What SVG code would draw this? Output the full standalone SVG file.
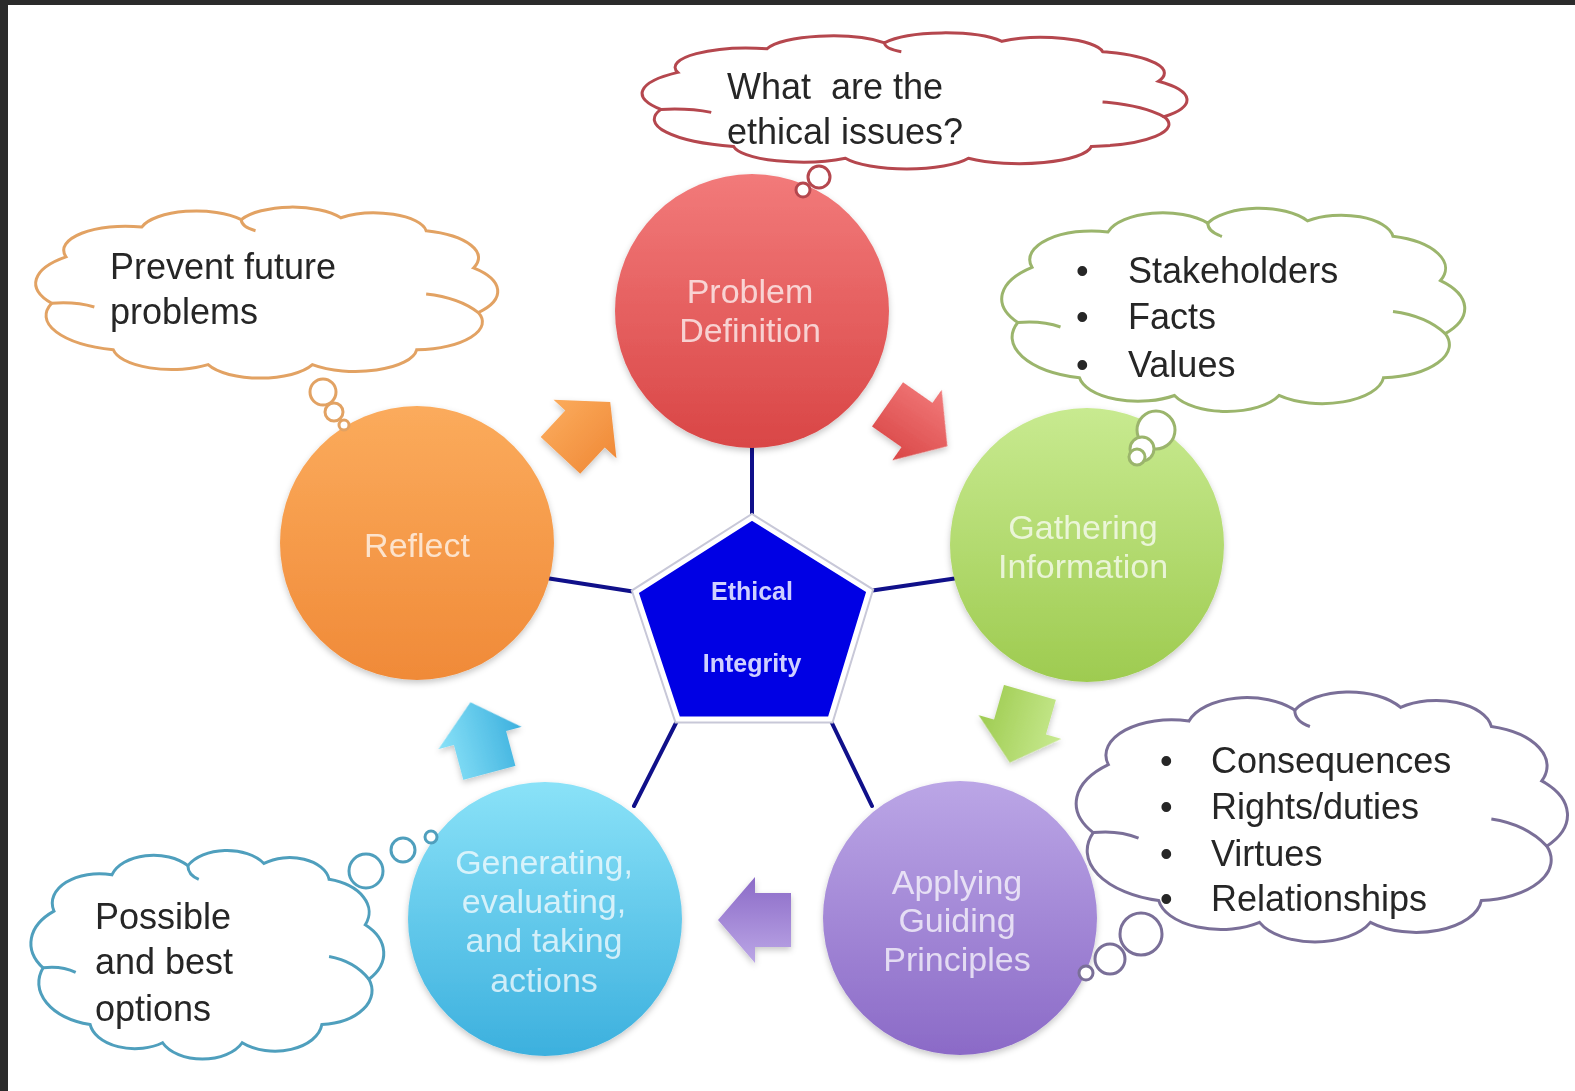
<svg xmlns="http://www.w3.org/2000/svg" xmlns:xlink="http://www.w3.org/1999/xlink" width="1575" height="1091" viewBox="0 0 1575 1091">
<style>
.cloud{fill:#ffffff;stroke-width:3;}
.crease{fill:none;stroke-width:3;}
.ctext{font-family:"Liberation Sans",Arial,sans-serif;font-size:36px;fill:#262626;}
.ntext{font-family:"Liberation Sans",Arial,sans-serif;font-size:34px;fill:#ffffff;fill-opacity:0.72;text-anchor:middle;}
.link{stroke:#10108a;stroke-width:4;stroke-linecap:round;}
.red{stroke:#b5474e;}
.orange{stroke:#e2a263;}
.green{stroke:#9bb56c;}
.purple{stroke:#7a6f98;}
.teal{stroke:#4f9fbd;}
</style>
<defs>
<linearGradient id="gRed" x1="0" y1="0" x2="0" y2="1"><stop offset="0" stop-color="#f27a7a"/><stop offset="1" stop-color="#d94646"/></linearGradient>
<linearGradient id="gGreen" x1="0" y1="0" x2="0" y2="1"><stop offset="0" stop-color="#c8ea90"/><stop offset="1" stop-color="#9ecb50"/></linearGradient>
<linearGradient id="gPurple" x1="0" y1="0" x2="0" y2="1"><stop offset="0" stop-color="#bba6e6"/><stop offset="1" stop-color="#8b6ac7"/></linearGradient>
<linearGradient id="gBlue" x1="0" y1="0" x2="0" y2="1"><stop offset="0" stop-color="#8ae2f8"/><stop offset="1" stop-color="#3cb0de"/></linearGradient>
<linearGradient id="gOrange" x1="0" y1="0" x2="0" y2="1"><stop offset="0" stop-color="#fbab5c"/><stop offset="1" stop-color="#f08a38"/></linearGradient>
<filter id="shadow" x="-20%" y="-20%" width="140%" height="140%"><feDropShadow dx="0" dy="3" stdDeviation="3" flood-color="#000" flood-opacity="0.22"/></filter>
<path id="cloudShape" vector-effect="non-scaling-stroke" d="M5,55 A19,19 0 0 1 8,30 A13,13 0 0 1 24,14 A12,12 0 0 1 45,10 A12,12 0 0 1 66,9 A11,11 0 0 1 84,16 A15,15 0 0 1 94,36 A18,18 0 0 1 95,60 A15,15 0 0 1 82,80 A13,13 0 0 1 60,88 A12,12 0 0 1 38,88 A12.5,12.5 0 0 1 18,80 A19,19 0 0 1 5,55 Z"/>
<path id="creaseShape" vector-effect="non-scaling-stroke" d="M5,55 Q10,54 14,57 M95,60 Q91,52 84,50 M45,10 Q45,14 48,16"/>
<path id="arrowShape" d="M-36,-27 L0,-27 L0,-43 L37,0 L0,43 L0,27 L-36,27 Z"/>
</defs>

<rect x="0" y="0" width="1575" height="1091" fill="#ffffff"/>
<rect x="0" y="0" width="1575" height="5" fill="#2b2b2b"/>
<rect x="0" y="0" width="8" height="1091" fill="#2b2b2b"/>

<g id="connectors">
<line class="link" x1="752" y1="440" x2="752" y2="518"/>
<line class="link" x1="546" y1="578" x2="636" y2="592"/>
<line class="link" x1="869" y1="591" x2="958" y2="578"/>
<line class="link" x1="678" y1="719" x2="634" y2="806"/>
<line class="link" x1="830" y1="719" x2="872" y2="806"/>
</g>

<g id="flow-arrows" filter="url(#shadow)">
<use xlink:href="#arrowShape" href="#arrowShape" fill="url(#gOrange)" transform="translate(585,429) rotate(-47)"/>
<use xlink:href="#arrowShape" href="#arrowShape" fill="url(#gRed)" transform="translate(917,425) rotate(35)"/>
<use xlink:href="#arrowShape" href="#arrowShape" fill="url(#gGreen)" transform="translate(1020,727) rotate(106)"/>
<use xlink:href="#arrowShape" href="#arrowShape" fill="url(#gPurple)" transform="translate(755,920) rotate(180)"/>
<use xlink:href="#arrowShape" href="#arrowShape" fill="url(#gBlue)" transform="translate(480,738) rotate(-105)"/>
</g>

<g id="center">
<polygon points="752,518 869,591 830,719 678,719 636,592" fill="none" stroke="#c8c8d8" stroke-width="9" stroke-linejoin="miter"/>
<polygon points="752,518 869,591 830,719 678,719 636,592" fill="#0000e4" stroke="#ffffff" stroke-width="5" stroke-linejoin="miter"/>
<text x="752" y="600" text-anchor="middle" font-family="'Liberation Sans',Arial,sans-serif" font-size="25" font-weight="bold" fill="#cfd0ff">Ethical</text>
<text x="752" y="672" text-anchor="middle" font-family="'Liberation Sans',Arial,sans-serif" font-size="25" font-weight="bold" fill="#cfd0ff">Integrity</text>
</g>

<g id="problem-definition">
<circle cx="752" cy="311" r="137" fill="url(#gRed)" filter="url(#shadow)"/>
<text class="ntext" x="750" y="303">Problem</text>
<text class="ntext" x="750" y="342">Definition</text>
</g>

<g id="gathering-information">
<circle cx="1087" cy="545" r="137" fill="url(#gGreen)" filter="url(#shadow)"/>
<text class="ntext" x="1083" y="539" fill-opacity="0.55">Gathering</text>
<text class="ntext" x="1083" y="578" fill-opacity="0.55">Information</text>
</g>

<g id="applying-guiding-principles">
<circle cx="960" cy="918" r="137" fill="url(#gPurple)" filter="url(#shadow)"/>
<text class="ntext" x="957" y="894">Applying</text>
<text class="ntext" x="957" y="932">Guiding</text>
<text class="ntext" x="957" y="971">Principles</text>
</g>

<g id="generating-actions">
<circle cx="545" cy="919" r="137" fill="url(#gBlue)" filter="url(#shadow)"/>
<text class="ntext" x="544" y="874">Generating,</text>
<text class="ntext" x="544" y="913">evaluating,</text>
<text class="ntext" x="544" y="952">and taking</text>
<text class="ntext" x="544" y="992">actions</text>
</g>

<g id="reflect">
<circle cx="417" cy="543" r="137" fill="url(#gOrange)" filter="url(#shadow)"/>
<text class="ntext" x="417" y="557">Reflect</text>
</g>

<g id="cloud-ethical-issues">
<use xlink:href="#cloudShape" href="#cloudShape" class="cloud red" transform="translate(633,28) scale(5.59,1.48)"/>
<use xlink:href="#creaseShape" href="#creaseShape" class="crease red" transform="translate(633,28) scale(5.59,1.48)"/>
<circle cx="819" cy="177" r="11" class="cloud red"/>
<circle cx="803" cy="190" r="7" class="cloud red"/>
<text class="ctext" x="727" y="99" xml:space="preserve">What  are the</text>
<text class="ctext" x="727" y="144">ethical issues?</text>
</g>

<g id="cloud-prevent">
<use xlink:href="#cloudShape" href="#cloudShape" class="cloud orange" transform="translate(28,201) scale(4.74,1.86)"/>
<use xlink:href="#creaseShape" href="#creaseShape" class="crease orange" transform="translate(28,201) scale(4.74,1.86)"/>
<circle cx="323" cy="392" r="13" class="cloud orange"/>
<circle cx="334" cy="412" r="9" class="cloud orange"/>
<circle cx="344" cy="425" r="5" class="cloud orange"/>
<text class="ctext" x="110" y="279">Prevent future</text>
<text class="ctext" x="110" y="324">problems</text>
</g>

<g id="cloud-stakeholders">
<use xlink:href="#cloudShape" href="#cloudShape" class="cloud green" transform="translate(994,201) scale(4.75,2.21)"/>
<use xlink:href="#creaseShape" href="#creaseShape" class="crease green" transform="translate(994,201) scale(4.75,2.21)"/>
<circle cx="1156" cy="430" r="19" class="cloud green"/>
<circle cx="1142" cy="449" r="12" class="cloud green"/>
<circle cx="1137" cy="457" r="8" class="cloud green"/>
<text class="ctext" x="1076" y="283">•</text><text class="ctext" x="1128" y="283">Stakeholders</text>
<text class="ctext" x="1076" y="329">•</text><text class="ctext" x="1128" y="329">Facts</text>
<text class="ctext" x="1076" y="377">•</text><text class="ctext" x="1128" y="377">Values</text>
</g>

<g id="cloud-principles">
<use xlink:href="#cloudShape" href="#cloudShape" class="cloud purple" transform="translate(1068,683) scale(5.04,2.72)"/>
<use xlink:href="#creaseShape" href="#creaseShape" class="crease purple" transform="translate(1068,683) scale(5.04,2.72)"/>
<circle cx="1141" cy="934" r="21" class="cloud purple"/>
<circle cx="1110" cy="959" r="15" class="cloud purple"/>
<circle cx="1086" cy="973" r="7" class="cloud purple"/>
<text class="ctext" x="1160" y="773">•</text><text class="ctext" x="1211" y="773">Consequences</text>
<text class="ctext" x="1160" y="819">•</text><text class="ctext" x="1211" y="819">Rights/duties</text>
<text class="ctext" x="1160" y="866">•</text><text class="ctext" x="1211" y="866">Virtues</text>
<text class="ctext" x="1160" y="911">•</text><text class="ctext" x="1211" y="911">Relationships</text>
</g>

<g id="cloud-options">
<use xlink:href="#cloudShape" href="#cloudShape" class="cloud teal" transform="translate(25,843) scale(3.62,2.27)"/>
<use xlink:href="#creaseShape" href="#creaseShape" class="crease teal" transform="translate(25,843) scale(3.62,2.27)"/>
<circle cx="366" cy="871" r="17" class="cloud teal"/>
<circle cx="403" cy="850" r="12" class="cloud teal"/>
<circle cx="431" cy="837" r="6" class="cloud teal"/>
<text class="ctext" x="95" y="929">Possible</text>
<text class="ctext" x="95" y="974">and best</text>
<text class="ctext" x="95" y="1021">options</text>
</g>
</svg>
